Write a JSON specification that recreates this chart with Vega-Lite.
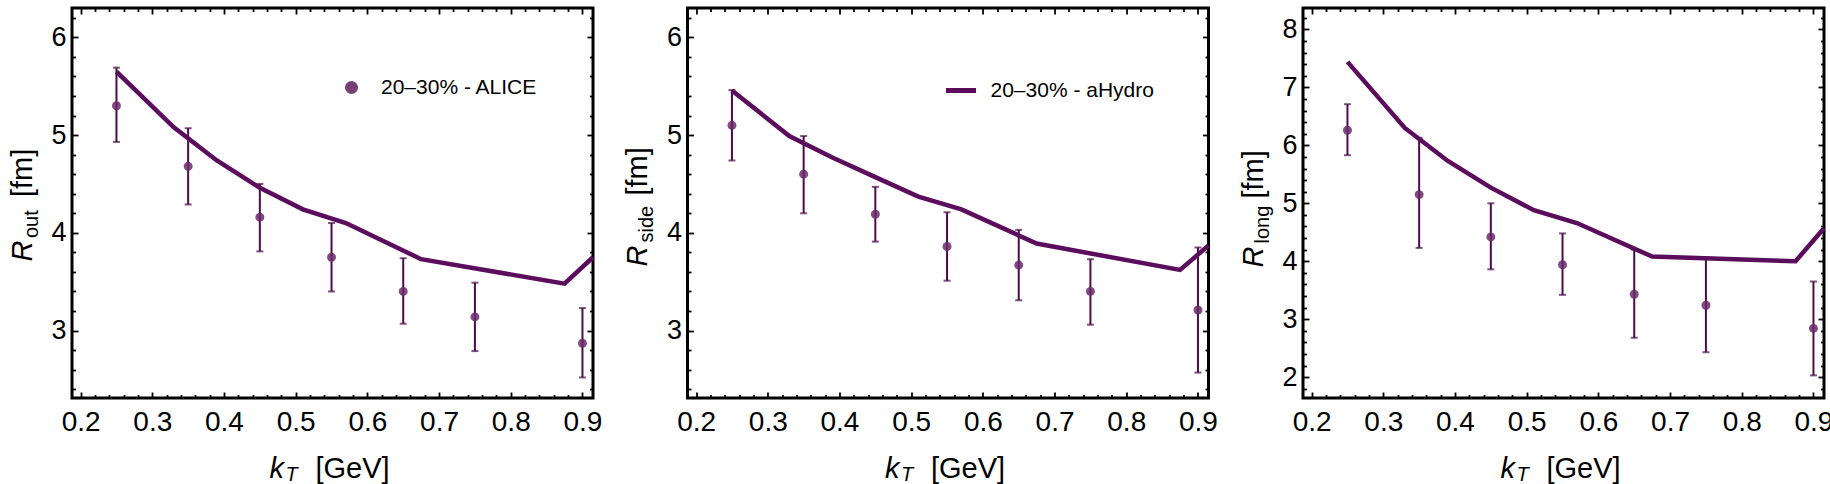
{
  "$schema": "https://vega.github.io/schema/vega-lite/v6.json",
  "background": "white",
  "padding": {"left": 6, "top": 2, "right": 0, "bottom": 3},
  "spacing": 94.5,
  "bounds": "flush",
  "resolve": {"scale": {"color": "independent"}},
  "config": {
    "font": "Liberation Sans",
    "view": {"stroke": "black", "strokeWidth": 3},
    "axis": {"grid": false, "domain": false, "titleFontWeight": "normal", "titleColor": "black", "labelColor": "black", "tickColor": "black", "labelFont": "Liberation Sans", "titleFont": "Liberation Sans", "tickWidth": 1.8, "labelOverlap": false, "labelFlush": false},
    "legend": {"labelFont": "Liberation Sans", "labelColor": "black", "labelFontSize": 21, "padding": 0, "labelLimit": 400, "title": null}
  },
  "datasets": {
    "out_pts": [
      {"kT": 0.25, "R": 5.30, "lo": 4.93, "hi": 5.69},
      {"kT": 0.35, "R": 4.68, "lo": 4.29, "hi": 5.07},
      {"kT": 0.45, "R": 4.16, "lo": 3.81, "hi": 4.50},
      {"kT": 0.55, "R": 3.75, "lo": 3.40, "hi": 4.10},
      {"kT": 0.65, "R": 3.40, "lo": 3.07, "hi": 3.74},
      {"kT": 0.75, "R": 3.14, "lo": 2.79, "hi": 3.49},
      {"kT": 0.9, "R": 2.87, "lo": 2.52, "hi": 3.23}
    ],
    "side_pts": [
      {"kT": 0.25, "R": 5.10, "lo": 4.74, "hi": 5.46},
      {"kT": 0.35, "R": 4.60, "lo": 4.20, "hi": 4.99},
      {"kT": 0.45, "R": 4.19, "lo": 3.91, "hi": 4.47},
      {"kT": 0.55, "R": 3.86, "lo": 3.51, "hi": 4.21},
      {"kT": 0.65, "R": 3.67, "lo": 3.31, "hi": 4.03},
      {"kT": 0.75, "R": 3.40, "lo": 3.06, "hi": 3.73},
      {"kT": 0.9, "R": 3.21, "lo": 2.57, "hi": 3.85}
    ],
    "long_pts": [
      {"kT": 0.25, "R": 6.26, "lo": 5.83, "hi": 6.71},
      {"kT": 0.35, "R": 5.15, "lo": 4.23, "hi": 6.13},
      {"kT": 0.45, "R": 4.42, "lo": 3.86, "hi": 5.00},
      {"kT": 0.55, "R": 3.94, "lo": 3.42, "hi": 4.48},
      {"kT": 0.65, "R": 3.43, "lo": 2.68, "hi": 4.20},
      {"kT": 0.75, "R": 3.24, "lo": 2.43, "hi": 4.06},
      {"kT": 0.9, "R": 2.84, "lo": 2.03, "hi": 3.65}
    ],
    "out_line": [
      {"kT": 0.25, "R": 5.65}, {"kT": 0.33, "R": 5.08}, {"kT": 0.39, "R": 4.74},
      {"kT": 0.45, "R": 4.46}, {"kT": 0.51, "R": 4.24}, {"kT": 0.57, "R": 4.10},
      {"kT": 0.675, "R": 3.73}, {"kT": 0.875, "R": 3.48}, {"kT": 0.9147, "R": 3.75}
    ],
    "side_line": [
      {"kT": 0.25, "R": 5.455}, {"kT": 0.33, "R": 4.99}, {"kT": 0.39, "R": 4.77},
      {"kT": 0.45, "R": 4.57}, {"kT": 0.51, "R": 4.37}, {"kT": 0.57, "R": 4.24},
      {"kT": 0.675, "R": 3.89}, {"kT": 0.875, "R": 3.62}, {"kT": 0.9147, "R": 3.87}
    ],
    "long_line": [
      {"kT": 0.25, "R": 7.44}, {"kT": 0.33, "R": 6.30}, {"kT": 0.39, "R": 5.73},
      {"kT": 0.45, "R": 5.27}, {"kT": 0.51, "R": 4.88}, {"kT": 0.57, "R": 4.66},
      {"kT": 0.675, "R": 4.08}, {"kT": 0.875, "R": 4.00}, {"kT": 0.9147, "R": 4.57}
    ]
  },
  "hconcat": [
    {
      "width": 521, "height": 390,
      "layer": [
        {
          "data": {"name": "out_pts"},
          "mark": {"type": "rule", "color": "#4a0c4c", "strokeWidth": 2},
          "encoding": {
            "x": {"field": "kT", "type": "quantitative", "scale": {"domain": [0.188, 0.9147], "nice": false, "zero": false},
              "axis": {"orient": "bottom", "values": [0.2,0.22,0.24,0.26,0.28,0.3,0.32,0.34,0.36,0.38,0.4,0.42,0.44,0.46,0.48,0.5,0.52,0.54,0.56,0.58,0.6,0.62,0.64,0.66,0.68,0.7,0.72,0.74,0.76,0.78,0.8,0.82,0.84,0.86,0.88,0.9],
                "tickSize": {"condition": {"test": "abs(datum.value*10 - round(datum.value*10)) < 0.001", "value": -6}, "value": -3.5},
                "labelExpr": "abs(datum.value*10 - round(datum.value*10)) < 0.001 ? format(datum.value, '.1f') : ''",
                "labelPadding": 16, "labelFontSize": 28,
                "title": "[GeV]", "titleFontSize": 29, "titleX": 243, "titleY": 79.5, "titleAlign": "left", "titleBaseline": "alphabetic", "titleAngle": 0}},
            "y": {"field": "lo", "type": "quantitative", "scale": {"domain": [2.31, 6.3], "nice": false, "zero": false},
              "axis": {"orient": "left", "values": [2.4,2.6,2.8,3,3.2,3.4,3.6,3.8,4,4.2,4.4,4.6,4.8,5,5.2,5.4,5.6,5.8,6,6.2],
                "tickSize": {"condition": {"test": "abs(datum.value - round(datum.value)) < 0.001", "value": -6}, "value": -3.5},
                "labelExpr": "abs(datum.value - round(datum.value)) < 0.001 ? format(datum.value, 'd') : ''",
                "labelPadding": 12, "labelFontSize": 27,
                "title": "[fm]", "titleFontSize": 29, "titleAngle": 270, "titleAlign": "left", "titleBaseline": "alphabetic", "titleX": -41, "titleY": 188.5}},
            "y2": {"field": "hi"}
          }
        },
        {
          "data": {"name": "out_pts"},
          "transform": [{"fold": ["lo", "hi"], "as": ["bound", "val"]}],
          "mark": {"type": "tick", "orient": "horizontal", "size": 7, "thickness": 2, "color": "#4a0c4c"},
          "encoding": {
            "x": {"field": "kT", "type": "quantitative", "axis": null},
            "y": {"field": "val", "type": "quantitative", "axis": null}
          }
        },
        {
          "data": {"name": "out_pts"},
          "mark": {"type": "point", "filled": true, "size": 80, "opacity": 0.85},
          "encoding": {
            "x": {"field": "kT", "type": "quantitative",
              "axis": {"orient": "top", "values": [0.2,0.22,0.24,0.26,0.28,0.3,0.32,0.34,0.36,0.38,0.4,0.42,0.44,0.46,0.48,0.5,0.52,0.54,0.56,0.58,0.6,0.62,0.64,0.66,0.68,0.7,0.72,0.74,0.76,0.78,0.8,0.82,0.84,0.86,0.88,0.9],
                "tickSize": {"condition": {"test": "abs(datum.value*10 - round(datum.value*10)) < 0.001", "value": -6}, "value": -3.5},
                "labels": false,
                "title": "k", "titleFontStyle": "italic", "titleFontSize": 29, "titleX": 197, "titleY": 469.5, "titleAlign": "left", "titleBaseline": "alphabetic", "titleAngle": 0}},
            "y": {"field": "R", "type": "quantitative",
              "axis": {"orient": "right", "values": [2.4,2.6,2.8,3,3.2,3.4,3.6,3.8,4,4.2,4.4,4.6,4.8,5,5.2,5.4,5.6,5.8,6,6.2],
                "tickSize": {"condition": {"test": "abs(datum.value - round(datum.value)) < 0.001", "value": -6}, "value": -3.5},
                "labels": false,
                "title": "R", "titleFontStyle": "italic", "titleFontSize": 29, "titleAngle": 270, "titleAlign": "left", "titleBaseline": "alphabetic", "titleX": -562, "titleY": 253}},
            "color": {"datum": "20–30% - ALICE", "type": "nominal", "scale": {"range": ["#6a2a6a"]},
              "legend": {"orient": "none", "legendX": 269, "legendY": 69, "symbolType": "circle", "symbolSize": 170, "symbolStrokeWidth": 0, "symbolOpacity": 0.9, "labelOffset": 19}}
          }
        },
        {
          "data": {"name": "out_line"},
          "mark": {"type": "line", "color": "#5b0c5c", "strokeWidth": 4.5},
          "encoding": {
            "x": {"field": "kT", "type": "quantitative",
              "axis": {"orient": "bottom", "ticks": false, "labels": false, "title": "T", "titleFontStyle": "italic", "titleFontSize": 20, "titleX": 213, "titleY": 82.5, "titleAlign": "left", "titleBaseline": "alphabetic", "titleAngle": 0}},
            "y": {"field": "R", "type": "quantitative",
              "axis": {"orient": "left", "ticks": false, "labels": false, "title": "out", "titleFontSize": 20, "titleAngle": 270, "titleAlign": "left", "titleBaseline": "alphabetic", "titleX": -35, "titleY": 229.5}}
          }
        }
      ],
      "resolve": {"axis": {"x": "independent", "y": "independent"}}
    },
    {
      "width": 521, "height": 390,
      "layer": [
        {
          "data": {"name": "side_pts"},
          "mark": {"type": "rule", "color": "#4a0c4c", "strokeWidth": 2},
          "encoding": {
            "x": {"field": "kT", "type": "quantitative", "scale": {"domain": [0.188, 0.9147], "nice": false, "zero": false},
              "axis": {"orient": "bottom", "values": [0.2,0.22,0.24,0.26,0.28,0.3,0.32,0.34,0.36,0.38,0.4,0.42,0.44,0.46,0.48,0.5,0.52,0.54,0.56,0.58,0.6,0.62,0.64,0.66,0.68,0.7,0.72,0.74,0.76,0.78,0.8,0.82,0.84,0.86,0.88,0.9],
                "tickSize": {"condition": {"test": "abs(datum.value*10 - round(datum.value*10)) < 0.001", "value": -6}, "value": -3.5},
                "labelExpr": "abs(datum.value*10 - round(datum.value*10)) < 0.001 ? format(datum.value, '.1f') : ''",
                "labelPadding": 16, "labelFontSize": 28,
                "title": "[GeV]", "titleFontSize": 29, "titleX": 243, "titleY": 79.5, "titleAlign": "left", "titleBaseline": "alphabetic", "titleAngle": 0}},
            "y": {"field": "lo", "type": "quantitative", "scale": {"domain": [2.31, 6.3], "nice": false, "zero": false},
              "axis": {"orient": "left", "values": [2.4,2.6,2.8,3,3.2,3.4,3.6,3.8,4,4.2,4.4,4.6,4.8,5,5.2,5.4,5.6,5.8,6,6.2],
                "tickSize": {"condition": {"test": "abs(datum.value - round(datum.value)) < 0.001", "value": -6}, "value": -3.5},
                "labelExpr": "abs(datum.value - round(datum.value)) < 0.001 ? format(datum.value, 'd') : ''",
                "labelPadding": 12, "labelFontSize": 27,
                "title": "[fm]", "titleFontSize": 29, "titleAngle": 270, "titleAlign": "left", "titleBaseline": "alphabetic", "titleX": -41, "titleY": 187}},
            "y2": {"field": "hi"}
          }
        },
        {
          "data": {"name": "side_pts"},
          "transform": [{"fold": ["lo", "hi"], "as": ["bound", "val"]}],
          "mark": {"type": "tick", "orient": "horizontal", "size": 7, "thickness": 2, "color": "#4a0c4c"},
          "encoding": {
            "x": {"field": "kT", "type": "quantitative", "axis": null},
            "y": {"field": "val", "type": "quantitative", "axis": null}
          }
        },
        {
          "data": {"name": "side_pts"},
          "mark": {"type": "point", "filled": true, "size": 80, "opacity": 0.85, "color": "#6a2a6a"},
          "encoding": {
            "x": {"field": "kT", "type": "quantitative",
              "axis": {"orient": "top", "values": [0.2,0.22,0.24,0.26,0.28,0.3,0.32,0.34,0.36,0.38,0.4,0.42,0.44,0.46,0.48,0.5,0.52,0.54,0.56,0.58,0.6,0.62,0.64,0.66,0.68,0.7,0.72,0.74,0.76,0.78,0.8,0.82,0.84,0.86,0.88,0.9],
                "tickSize": {"condition": {"test": "abs(datum.value*10 - round(datum.value*10)) < 0.001", "value": -6}, "value": -3.5},
                "labels": false,
                "title": "k", "titleFontStyle": "italic", "titleFontSize": 29, "titleX": 197, "titleY": 469.5, "titleAlign": "left", "titleBaseline": "alphabetic", "titleAngle": 0}},
            "y": {"field": "R", "type": "quantitative",
              "axis": {"orient": "right", "values": [2.4,2.6,2.8,3,3.2,3.4,3.6,3.8,4,4.2,4.4,4.6,4.8,5,5.2,5.4,5.6,5.8,6,6.2],
                "tickSize": {"condition": {"test": "abs(datum.value - round(datum.value)) < 0.001", "value": -6}, "value": -3.5},
                "labels": false,
                "title": "R", "titleFontStyle": "italic", "titleFontSize": 29, "titleAngle": 270, "titleAlign": "left", "titleBaseline": "alphabetic", "titleX": -562, "titleY": 258}}
          }
        },
        {
          "data": {"name": "side_line"},
          "mark": {"type": "line", "strokeWidth": 4.5},
          "encoding": {
            "x": {"field": "kT", "type": "quantitative",
              "axis": {"orient": "bottom", "ticks": false, "labels": false, "title": "T", "titleFontStyle": "italic", "titleFontSize": 20, "titleX": 213, "titleY": 82.5, "titleAlign": "left", "titleBaseline": "alphabetic", "titleAngle": 0}},
            "y": {"field": "R", "type": "quantitative",
              "axis": {"orient": "left", "ticks": false, "labels": false, "title": "side", "titleFontSize": 20, "titleAngle": 270, "titleAlign": "left", "titleBaseline": "alphabetic", "titleX": -35, "titleY": 234}},
            "color": {"datum": "20–30% - aHydro", "type": "nominal", "scale": {"range": ["#5b0c5c"]},
              "legend": {"orient": "none", "legendX": 256, "legendY": 65, "symbolType": "stroke", "symbolSize": 900, "symbolStrokeWidth": 5, "labelOffset": 12}}
          }
        }
      ],
      "resolve": {"axis": {"x": "independent", "y": "independent"}}
    },
    {
      "width": 521, "height": 390,
      "layer": [
        {
          "data": {"name": "long_pts"},
          "mark": {"type": "rule", "color": "#4a0c4c", "strokeWidth": 2},
          "encoding": {
            "x": {"field": "kT", "type": "quantitative", "scale": {"domain": [0.188, 0.9147], "nice": false, "zero": false},
              "axis": {"orient": "bottom", "values": [0.2,0.22,0.24,0.26,0.28,0.3,0.32,0.34,0.36,0.38,0.4,0.42,0.44,0.46,0.48,0.5,0.52,0.54,0.56,0.58,0.6,0.62,0.64,0.66,0.68,0.7,0.72,0.74,0.76,0.78,0.8,0.82,0.84,0.86,0.88,0.9],
                "tickSize": {"condition": {"test": "abs(datum.value*10 - round(datum.value*10)) < 0.001", "value": -6}, "value": -3.5},
                "labelExpr": "abs(datum.value*10 - round(datum.value*10)) < 0.001 ? format(datum.value, '.1f') : ''",
                "labelPadding": 16, "labelFontSize": 28,
                "title": "[GeV]", "titleFontSize": 29, "titleX": 243, "titleY": 79.5, "titleAlign": "left", "titleBaseline": "alphabetic", "titleAngle": 0}},
            "y": {"field": "lo", "type": "quantitative", "scale": {"domain": [1.64, 8.37], "nice": false, "zero": false},
              "axis": {"orient": "left", "values": [1.8,2,2.2,2.4,2.6,2.8,3,3.2,3.4,3.6,3.8,4,4.2,4.4,4.6,4.8,5,5.2,5.4,5.6,5.8,6,6.2,6.4,6.6,6.8,7,7.2,7.4,7.6,7.8,8,8.2],
                "tickSize": {"condition": {"test": "abs(datum.value - round(datum.value)) < 0.001", "value": -6}, "value": -3.5},
                "labelExpr": "abs(datum.value - round(datum.value)) < 0.001 ? format(datum.value, 'd') : ''",
                "labelPadding": 12, "labelFontSize": 27,
                "title": "[fm]", "titleFontSize": 29, "titleAngle": 270, "titleAlign": "left", "titleBaseline": "alphabetic", "titleX": -41, "titleY": 190}},
            "y2": {"field": "hi"}
          }
        },
        {
          "data": {"name": "long_pts"},
          "transform": [{"fold": ["lo", "hi"], "as": ["bound", "val"]}],
          "mark": {"type": "tick", "orient": "horizontal", "size": 7, "thickness": 2, "color": "#4a0c4c"},
          "encoding": {
            "x": {"field": "kT", "type": "quantitative", "axis": null},
            "y": {"field": "val", "type": "quantitative", "axis": null}
          }
        },
        {
          "data": {"name": "long_pts"},
          "mark": {"type": "point", "filled": true, "size": 80, "opacity": 0.85, "color": "#6a2a6a"},
          "encoding": {
            "x": {"field": "kT", "type": "quantitative",
              "axis": {"orient": "top", "values": [0.2,0.22,0.24,0.26,0.28,0.3,0.32,0.34,0.36,0.38,0.4,0.42,0.44,0.46,0.48,0.5,0.52,0.54,0.56,0.58,0.6,0.62,0.64,0.66,0.68,0.7,0.72,0.74,0.76,0.78,0.8,0.82,0.84,0.86,0.88,0.9],
                "tickSize": {"condition": {"test": "abs(datum.value*10 - round(datum.value*10)) < 0.001", "value": -6}, "value": -3.5},
                "labels": false,
                "title": "k", "titleFontStyle": "italic", "titleFontSize": 29, "titleX": 197, "titleY": 469.5, "titleAlign": "left", "titleBaseline": "alphabetic", "titleAngle": 0}},
            "y": {"field": "R", "type": "quantitative",
              "axis": {"orient": "right", "values": [1.8,2,2.2,2.4,2.6,2.8,3,3.2,3.4,3.6,3.8,4,4.2,4.4,4.6,4.8,5,5.2,5.4,5.6,5.8,6,6.2,6.4,6.6,6.8,7,7.2,7.4,7.6,7.8,8,8.2],
                "tickSize": {"condition": {"test": "abs(datum.value - round(datum.value)) < 0.001", "value": -6}, "value": -3.5},
                "labels": false,
                "title": "R", "titleFontStyle": "italic", "titleFontSize": 29, "titleAngle": 270, "titleAlign": "left", "titleBaseline": "alphabetic", "titleX": -562, "titleY": 259}}
          }
        },
        {
          "data": {"name": "long_line"},
          "mark": {"type": "line", "color": "#5b0c5c", "strokeWidth": 4.5},
          "encoding": {
            "x": {"field": "kT", "type": "quantitative",
              "axis": {"orient": "bottom", "ticks": false, "labels": false, "title": "T", "titleFontStyle": "italic", "titleFontSize": 20, "titleX": 213, "titleY": 82.5, "titleAlign": "left", "titleBaseline": "alphabetic", "titleAngle": 0}},
            "y": {"field": "R", "type": "quantitative",
              "axis": {"orient": "left", "ticks": false, "labels": false, "title": "long", "titleFontSize": 20, "titleAngle": 270, "titleAlign": "left", "titleBaseline": "alphabetic", "titleX": -35, "titleY": 235}}
          }
        }
      ],
      "resolve": {"axis": {"x": "independent", "y": "independent"}}
    }
  ]
}
